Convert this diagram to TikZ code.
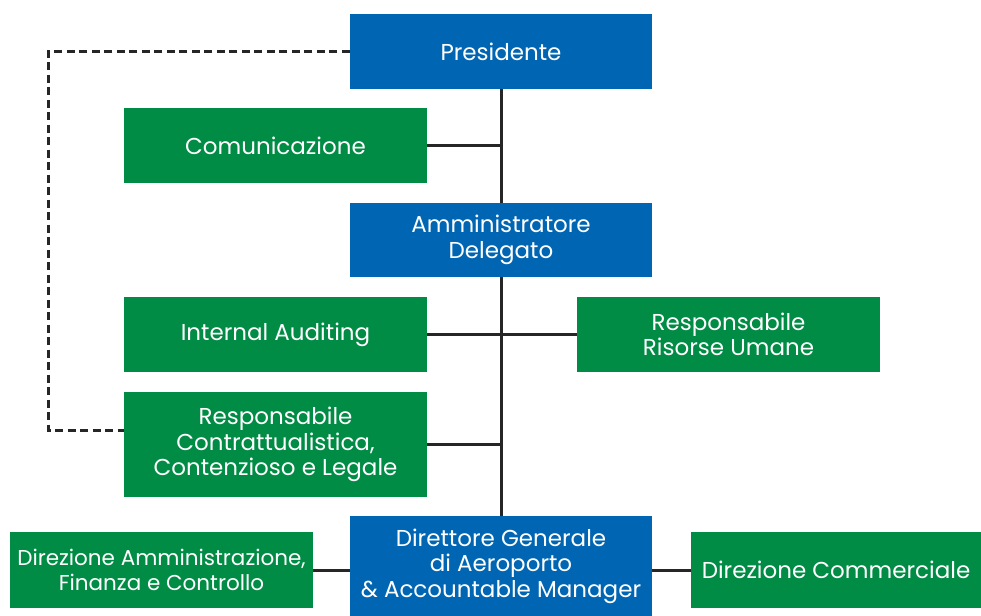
\documentclass[tikz,border=0pt]{standalone}
\usepackage{fontspec}
\setmainfont{Poppins}
\usetikzlibrary{backgrounds}
\definecolor{orgblue}{HTML}{0066B3}
\definecolor{orggreen}{HTML}{008C44}
\begin{document}
\begin{tikzpicture}[x=1pt,y=-1pt,
  box/.style={inner sep=0pt, text=white, align=center, font=\fontsize{23}{25.5}\selectfont},
  bluebox/.style={box, fill=orgblue},
  greenbox/.style={box, fill=orggreen},
  link/.style={draw=black!85, line width=3pt},
  dlink/.style={draw=black!85, line width=3pt, dash pattern=on 8pt off 4.5pt}]
\useasboundingbox (0,0) rectangle (981,615);
\node[bluebox, minimum width=302pt, minimum height=75pt] (pres) at (501,51.5) {Presidente};
\node[greenbox, minimum width=303pt, minimum height=75pt] (com) at (275.5,145.5) {Comunicazione};
\node[bluebox, minimum width=302pt, minimum height=74pt] (ad) at (501,240) {Amministratore\\Delegato};
\node[greenbox, minimum width=303pt, minimum height=75pt] (ia) at (275.5,334.5) {Internal Auditing};
\node[greenbox, minimum width=303pt, minimum height=75pt] (rru) at (728.5,334.5) {Responsabile\\Risorse Umane};
\node[greenbox, minimum width=303pt, minimum height=105pt] (rcl) at (275.5,444.5) {Responsabile\\Contrattualistica,\\Contenzioso e Legale};
\node[bluebox, minimum width=302pt, minimum height=100pt] (dg) at (501,566) {Direttore Generale\\di Aeroporto\\\& Accountable Manager};
\node[greenbox, minimum width=303pt, minimum height=76pt, font=\fontsize{21.5}{25.5}\selectfont] (dafc) at (161.5,570) {Direzione Amministrazione,\\Finanza e Controllo};
\node[greenbox, minimum width=290pt, minimum height=76pt] (dc) at (836,570) {Direzione Commerciale};
\coordinate (jcom) at (501,145.5);
\coordinate (jrcl) at (501,444);
\coordinate (dtop) at (48,51.5);
\coordinate (dbot) at (48,430);
\begin{scope}[on background layer]
\draw[link] (pres.south) -- (dg.north);
\draw[link] (com.east) -- (jcom);
\draw[link] (ia.east) -- (rru.west);
\draw[link] (rcl.east |- jrcl) -- (jrcl);
\draw[link] (dafc.east) -- (dg.west |- dafc.east);
\draw[link] (dg.east |- dc.west) -- (dc.west);
\draw[dlink] (pres.west) -- (dtop) -- (dbot) -- (rcl.west |- dbot);
\end{scope}
\end{tikzpicture}
\end{document}
